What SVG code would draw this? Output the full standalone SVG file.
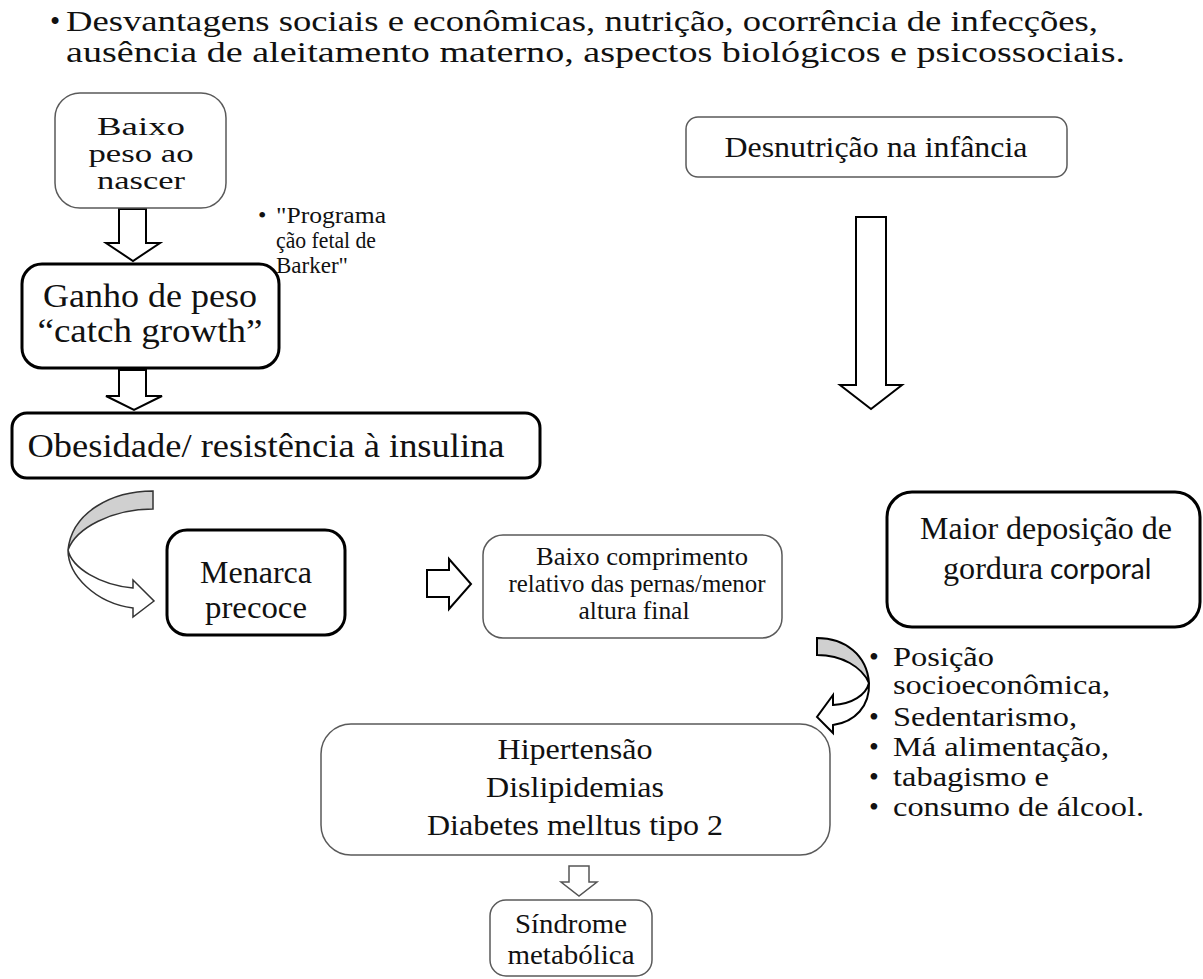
<svg xmlns="http://www.w3.org/2000/svg" width="1203" height="979" viewBox="0 0 1203 979">
<style>
.t{font-family:"Liberation Serif","Times New Roman",serif;fill:#111}
.c{text-anchor:middle}
.thin{fill:#fff;stroke:#5a5a5a;stroke-width:1.5}
.thick{fill:#fff;stroke:#000;stroke-width:3}
.ar{fill:#fff;stroke:#000;stroke-width:2;stroke-linejoin:miter}
.arg{fill:#fff;stroke:#555;stroke-width:1.5}
</style>
<rect width="1203" height="979" fill="#fff"/>

<g id="header" class="t" font-size="29">
  <text x="50" y="31">•</text>
  <text x="66" y="31" textLength="1032" lengthAdjust="spacingAndGlyphs">Desvantagens sociais e econômicas, nutrição, ocorrência de infecções,</text>
  <text x="66" y="62" textLength="1059" lengthAdjust="spacingAndGlyphs">ausência de aleitamento materno, aspectos biológicos e psicossociais.</text>
</g>

<g id="connectors">
  <polygon class="ar" points="119,209 146,209 146,243 160,243 133,261 106,243 119,243"/>
  <polygon class="ar" points="119,370 146,370 146,396 162,396 134,410 106,396 119,396"/>
  <polygon class="ar" stroke-width="3" points="427,570 449,570 449,559 471,584 449,609 449,597 427,597"/>
  <polygon class="ar" points="856,217 886,217 886,385 902,385 871,409 840,385 856,385"/>
  <polygon class="arg" points="569,866 589,866 589,882 597,882 579,896 561,882 569,882"/>
  <g id="curve-left" stroke="#333" stroke-width="1.5">
    <path d="M153,491 C112,491 72,512 68,550 C76,528 112,509 153,509 Z" fill="#d0d0d0"/>
    <path d="M68,550 C72,568 100,585 133,588 L133,580 L154,601 L133,617 L133,608 C95,603 68,575 68,550 Z" fill="#fff"/>
  </g>
  <g id="curve-right" stroke="#000" stroke-width="2">
    <path d="M817,638 C845,638 867,655 869,683 C862,667 842,655 817,655 Z" fill="#d0d0d0"/>
    <path d="M869,683 C866,695 852,704 833,705 L833,695 L817,717 L833,733 L833,725 C855,722 870,706 869,683 Z" fill="#fff"/>
  </g>
</g>

<g id="baixo-peso">
  <rect class="thin" x="55" y="93" width="171" height="115" rx="25"/>
  <g class="t c" font-size="26">
    <text x="141" y="135" textLength="88" lengthAdjust="spacingAndGlyphs">Baixo</text>
    <text x="141" y="162" textLength="105" lengthAdjust="spacingAndGlyphs">peso ao</text>
    <text x="141" y="189" textLength="88" lengthAdjust="spacingAndGlyphs">nascer</text>
  </g>
</g>

<g id="barker" class="t" font-size="24">
  <text x="258" y="223">•</text>
  <text x="276" y="223" textLength="110" lengthAdjust="spacingAndGlyphs">"Programa</text>
  <text x="276" y="248" textLength="100" lengthAdjust="spacingAndGlyphs">ção fetal de</text>
  <text x="276" y="273" textLength="72" lengthAdjust="spacingAndGlyphs">Barker"</text>
</g>

<g id="ganho">
  <rect class="thick" x="22" y="264" width="257" height="104" rx="20"/>
  <g class="t c" font-size="33">
    <text x="150" y="307" textLength="214" lengthAdjust="spacingAndGlyphs">Ganho de peso</text>
    <text x="150" y="342" textLength="225" lengthAdjust="spacingAndGlyphs">“catch growth”</text>
  </g>
</g>

<g id="obesidade">
  <rect class="thick" x="12" y="413" width="528" height="65" rx="15"/>
  <text class="t c" font-size="34" x="266" y="457" textLength="477" lengthAdjust="spacingAndGlyphs">Obesidade/ resistência à insulina</text>
</g>

<g id="desnutricao">
  <rect class="thin" x="686" y="117" width="381" height="60" rx="12"/>
  <text class="t c" font-size="30" x="876" y="157" textLength="303" lengthAdjust="spacingAndGlyphs">Desnutrição na infância</text>
</g>

<g id="menarca">
  <rect class="thick" x="167" y="530" width="178" height="105" rx="20"/>
  <g class="t c" font-size="31">
    <text x="256" y="583" textLength="112" lengthAdjust="spacingAndGlyphs">Menarca</text>
    <text x="256" y="618" textLength="102" lengthAdjust="spacingAndGlyphs">precoce</text>
  </g>
</g>

<g id="baixo-comprimento">
  <rect class="thin" x="483" y="535" width="299" height="103" rx="20"/>
  <g class="t c" font-size="26">
    <text x="642" y="565" textLength="212" lengthAdjust="spacingAndGlyphs">Baixo comprimento</text>
    <text x="637" y="592" textLength="257" lengthAdjust="spacingAndGlyphs">relativo  das pernas/menor</text>
    <text x="634" y="619" textLength="111" lengthAdjust="spacingAndGlyphs">altura final</text>
  </g>
</g>

<g id="maior-deposicao">
  <rect class="thick" x="887" y="492" width="313" height="135" rx="25"/>
  <text class="t" font-size="32" x="920" y="539" textLength="252" lengthAdjust="spacingAndGlyphs">Maior deposição de</text>
  <text x="943" y="579" font-size="32"><tspan class="t" textLength="100" lengthAdjust="spacingAndGlyphs">gordura</tspan><tspan font-family="Lato, 'Open Sans', sans-serif" font-size="28" fill="#111" x="1050">corporal</tspan></text>
</g>

<g id="fatores" class="t" font-size="28">
  <text x="869" y="666">•</text>
  <text x="893" y="666" textLength="101" lengthAdjust="spacingAndGlyphs">Posição</text>
  <text x="893" y="694" textLength="217" lengthAdjust="spacingAndGlyphs">socioeconômica,</text>
  <text x="869" y="726">•</text>
  <text x="893" y="726" textLength="184" lengthAdjust="spacingAndGlyphs">Sedentarismo,</text>
  <text x="869" y="756">•</text>
  <text x="893" y="756" textLength="216" lengthAdjust="spacingAndGlyphs">Má alimentação,</text>
  <text x="869" y="786">•</text>
  <text x="893" y="786" textLength="156" lengthAdjust="spacingAndGlyphs">tabagismo e</text>
  <text x="869" y="816">•</text>
  <text x="893" y="816" textLength="251" lengthAdjust="spacingAndGlyphs">consumo de álcool.</text>
</g>

<g id="doencas">
  <rect class="thin" x="321" y="724" width="509" height="131" rx="30"/>
  <g class="t c" font-size="30">
    <text x="575" y="759" textLength="155" lengthAdjust="spacingAndGlyphs">Hipertensão</text>
    <text x="575" y="797" textLength="178" lengthAdjust="spacingAndGlyphs">Dislipidemias</text>
    <text x="575" y="835" textLength="296" lengthAdjust="spacingAndGlyphs">Diabetes melltus tipo 2</text>
  </g>
</g>

<g id="sindrome">
  <rect class="thin" x="490" y="900" width="162" height="76" rx="16"/>
  <g class="t c" font-size="28">
    <text x="571" y="933" textLength="112" lengthAdjust="spacingAndGlyphs">Síndrome</text>
    <text x="571" y="964" textLength="127" lengthAdjust="spacingAndGlyphs">metabólica</text>
  </g>
</g>
</svg>
